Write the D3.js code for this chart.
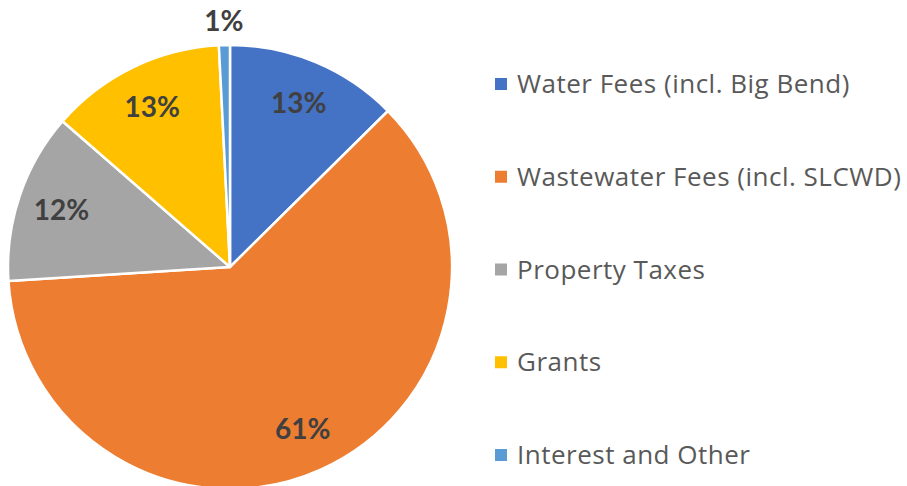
<!DOCTYPE html>
<html>
<head>
<meta charset="utf-8">
<script src="https://cdn.jsdelivr.net/npm/d3@7"></script>
<style>
	html, body { margin: 0; padding: 0; background: #fff; }
	svg { display: block; }
</style>
</head>
<body>
<svg id="chart"></svg>
<script>
// Revenue sources, percent of total
const categories = [
	'Water Fees (incl. Big Bend)',
	'Wastewater Fees (incl. SLCWD)',
	'Property Taxes',
	'Grants',
	'Interest and Other',
];
const shares = [ 12.6, 61.4, 12.4, 12.8, 0.8 ];
const colors = [ '#4472c4', '#ed7d31', '#a5a5a5', '#ffc000', '#5b9bd5' ];

const width = 907;
const height = 486;
const cx = 230;
const cy = 267;
const radius = 222;

const svg = d3.select( '#chart' )
	.attr( 'width', width )
	.attr( 'height', height );

const data = categories.map( ( name, i ) => ( { name, value: shares[ i ], color: colors[ i ] } ) );

const pie = d3.pie()
	.sort( null )
	.value( ( d ) => d.value );

const arcs = pie( data );
const total = d3.sum( shares );

const arc = d3.arc().innerRadius( 0 ).outerRadius( radius );
const labelArc = d3.arc().innerRadius( 178 ).outerRadius( 178 );
const outerLabelArc = d3.arc().innerRadius( 246 ).outerRadius( 246 );

const g = svg.append( 'g' )
	.attr( 'transform', `translate(${ cx },${ cy })` );

g.selectAll( 'path' )
	.data( arcs )
	.join( 'path' )
	.attr( 'd', arc )
	.attr( 'fill', ( d ) => d.data.color )
	.attr( 'stroke', '#fff' )
	.attr( 'stroke-width', 2.5 )
	.attr( 'stroke-linejoin', 'round' );

// data labels; tiny slices get theirs outside the pie
g.selectAll( 'text' )
	.data( arcs )
	.join( 'text' )
	.attr( 'transform', ( d ) => {
		const small = d.data.value / total < 0.03;
		const [ x, y ] = ( small ? outerLabelArc : labelArc ).centroid( d );
		return `translate(${ x },${ y })`;
	} )
	.attr( 'text-anchor', 'middle' )
	.attr( 'dy', '0.35em' )
	.style( 'font-family', 'Lato, "Open Sans", sans-serif' )
	.style( 'font-weight', 'bold' )
	.style( 'font-size', '28px' )
	.attr( 'fill', '#404040' )
	.text( ( d ) => d3.format( '.0%' )( d.data.value / total ) );

// legend
const legendY = d3.scalePoint()
	.domain( categories )
	.range( [ 84, 455 ] );

const legend = svg.append( 'g' )
	.selectAll( 'g' )
	.data( data )
	.join( 'g' )
	.attr( 'transform', ( d ) => `translate(495,${ legendY( d.name ) })` );

legend.append( 'rect' )
	.attr( 'x', 0 )
	.attr( 'y', -6 )
	.attr( 'width', 12 )
	.attr( 'height', 12 )
	.attr( 'fill', ( d ) => d.color );

legend.append( 'text' )
	.attr( 'x', 22 )
	.attr( 'dy', '0.35em' )
	.style( 'font-family', '"Open Sans", Lato, sans-serif' )
	.style( 'font-size', '26px' )
	.style( 'letter-spacing', '0.5px' )
	.attr( 'fill', '#595959' )
	.text( ( d ) => d.name );
</script>
</body>
</html>
